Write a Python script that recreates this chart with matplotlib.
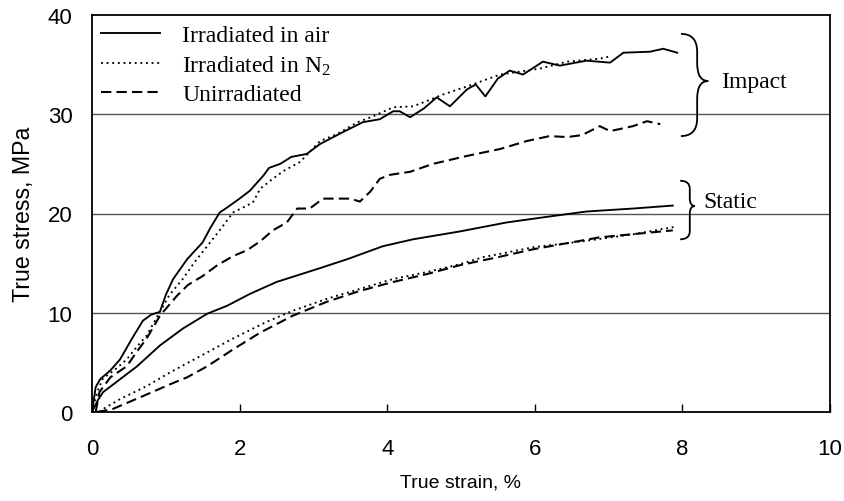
import matplotlib
matplotlib.use("Agg")
import matplotlib.pyplot as plt
from matplotlib.path import Path
from matplotlib.patches import PathPatch

# ---------------- data ----------------
impact_air_x = [0, 0.05, 0.11, 0.25, 0.38, 0.55, 0.69, 0.8, 0.92, 1.0, 1.1, 1.29, 1.5, 1.6, 1.73, 1.83,
                2.0, 2.14, 2.32, 2.4, 2.55, 2.7, 2.91, 3.09, 3.4, 3.67, 3.9, 4.08, 4.17, 4.31, 4.5, 4.67,
                4.85, 5.08, 5.2, 5.33, 5.5, 5.66, 5.84, 6.11, 6.34, 6.7, 7.02, 7.2, 7.56, 7.74, 7.93]
impact_air_y = [0, 2.5, 3.3, 4.2, 5.3, 7.5, 9.2, 9.8, 10.1, 11.8, 13.4, 15.4, 17.1, 18.5, 20.1, 20.6,
                21.5, 22.3, 23.8, 24.6, 25.0, 25.7, 26.0, 27.0, 28.2, 29.2, 29.5, 30.3, 30.3, 29.7, 30.6, 31.7,
                30.8, 32.5, 33.0, 31.8, 33.6, 34.4, 34.0, 35.3, 34.9, 35.4, 35.2, 36.2, 36.3, 36.6, 36.2]

impact_n2_x = [0, 0.07, 0.15, 0.3, 0.47, 0.6, 0.74, 0.92, 1.05, 1.23, 1.4, 1.56, 1.75, 1.91, 2.18, 2.28,
               2.45, 2.6, 2.82, 3.09, 3.32, 3.6, 3.81, 4.08, 4.35, 4.49, 4.76, 5.08, 5.53, 6.07, 6.44, 6.88, 7.0]
impact_n2_y = [0, 2.0, 3.4, 4.2, 5.3, 6.5, 7.7, 10.1, 11.8, 13.4, 15.2, 16.7, 18.5, 20.1, 21.1, 22.5,
               23.5, 24.3, 25.2, 27.3, 28.0, 29.2, 29.8, 30.7, 30.8, 31.2, 32.0, 32.8, 34.0, 34.6, 35.3, 35.6, 35.8]

impact_unirr_x = [0.05, 0.1, 0.25, 0.47, 0.6, 0.74, 0.92, 1.15, 1.3, 1.5, 1.7, 1.91, 2.1, 2.28, 2.45, 2.64,
                  2.78, 2.95, 3.13, 3.5, 3.63, 3.77, 3.9, 4.04, 4.31, 4.62, 5.08, 5.53, 5.89, 6.2, 6.44, 6.64,
                  6.88, 7.02, 7.33, 7.52, 7.7]
impact_unirr_y = [0, 2.0, 3.5, 4.6, 6.0, 7.4, 9.7, 11.7, 12.8, 13.7, 14.8, 15.7, 16.3, 17.2, 18.3, 19.1,
                  20.5, 20.5, 21.5, 21.5, 21.2, 22.2, 23.5, 23.9, 24.2, 25.0, 25.8, 26.5, 27.3, 27.8, 27.7, 27.9,
                  28.8, 28.3, 28.8, 29.3, 29.0]

static_air_x = [0, 0.08, 0.15, 0.38, 0.61, 0.92, 1.23, 1.56, 1.83, 2.14, 2.5, 3.05, 3.46, 3.94, 4.35, 4.99,
                5.62, 6.2, 6.7, 7.33, 7.87]
static_air_y = [0, 1.2, 2.0, 3.3, 4.6, 6.7, 8.4, 9.9, 10.7, 11.9, 13.1, 14.4, 15.4, 16.7, 17.4, 18.2,
                19.1, 19.7, 20.2, 20.5, 20.8]

static_n2_x = [0.1, 0.15, 0.38, 0.74, 1.06, 1.46, 1.91, 2.37, 2.72, 3.18, 3.63, 4.08, 4.54, 4.99, 5.3, 5.98,
               6.65, 7.33, 7.93]
static_n2_y = [0, 0.3, 1.3, 2.6, 4.0, 5.6, 7.4, 9.1, 10.2, 11.4, 12.4, 13.4, 14.1, 14.9, 15.6, 16.6,
               17.2, 17.9, 18.7]

static_unirr_x = [0.07, 0.28, 0.69, 1.06, 1.29, 1.56, 1.91, 2.28, 2.72, 3.18, 3.63, 4.08, 4.54, 4.99, 5.5,
                  5.98, 6.88, 7.87]
static_unirr_y = [0, 0.3, 1.6, 2.8, 3.5, 4.6, 6.3, 8.0, 9.7, 11.1, 12.2, 13.1, 13.9, 14.8, 15.6,
                  16.4, 17.6, 18.3]

legend_labels = ["Irradiated in air", r"Irradiated in $\mathrm{N_2}$", "Unirradiated"]
x_ticks = [0, 2, 4, 6, 8, 10]
y_ticks = [0, 10, 20, 30, 40]
group_labels = ["Impact", "Static"]

# ---------------- style ----------------
plt.rcParams['mathtext.fontset'] = 'custom'
plt.rcParams['mathtext.rm'] = 'Liberation Serif'
SANS = 'Liberation Sans'
SERIF = 'Liberation Serif'

fig = plt.figure(figsize=(8.45, 5.02), dpi=100)
ax = fig.add_axes([92 / 845, 89 / 502, 738 / 845, 397 / 502])

lw = 1.35
solid = dict(color='black', lw=lw, linestyle='-')
dotted = dict(color='black', lw=lw, linestyle=(0, (1, 2.0)))
dashed = dict(color='black', lw=lw * 1.1, linestyle=(0, (5, 2.5)))

for yv in [10, 20, 30]:
    ax.axhline(yv, color='#555555', lw=1.0, zorder=1)

l1, = ax.plot(impact_air_x, impact_air_y, **solid, zorder=3)
l2, = ax.plot(impact_n2_x, impact_n2_y, **dotted, zorder=3)
l3, = ax.plot(impact_unirr_x, impact_unirr_y, **dashed, zorder=3)
ax.plot(static_air_x, static_air_y, **solid, zorder=3)
ax.plot(static_n2_x, static_n2_y, **dotted, zorder=3)
ax.plot(static_unirr_x, static_unirr_y, **dashed, zorder=3)

ax.set_xlim(0, 10)
ax.set_ylim(0, 40)
ax.set_xticks(x_ticks)
ax.set_yticks(y_ticks)
ax.tick_params(axis='x', direction='in', length=6, width=1, pad=19, labelsize=16)
ax.tick_params(axis='y', length=0, pad=14, labelsize=16)
for lab in ax.get_xticklabels() + ax.get_yticklabels():
    lab.set_fontfamily(SANS)
for sp in ax.spines.values():
    sp.set_linewidth(1.3)

ax.set_xlabel("True strain, %", fontsize=14, family=SANS, labelpad=10)
ax.set_ylabel("True stress, MPa", fontsize=16.7, family=SANS, labelpad=9)

leg = ax.legend([l1, l2, l3], legend_labels, loc='upper left', frameon=False,
                prop={'family': SERIF, 'size': 17}, handlelength=2.5, handletextpad=0.95,
                labelspacing=0.3, borderaxespad=0.0, bbox_to_anchor=(0.004, 0.99), borderpad=0.25)


def brace(x0, xm, xt, yt, ym, yb, r):
    verts = [(x0, yt), (xm, yt), (xm, yt - r),
             (xm, ym + r),
             (xm, ym), (xt, ym),
             (xt, ym), (xm, ym), (xm, ym - r),
             (xm, yb + r),
             (xm, yb), (x0, yb)]
    codes = [Path.MOVETO, Path.CURVE3, Path.CURVE3,
             Path.LINETO,
             Path.CURVE3, Path.CURVE3,
             Path.MOVETO, Path.CURVE3, Path.CURVE3,
             Path.LINETO,
             Path.CURVE3, Path.CURVE3]
    p = PathPatch(Path(verts, codes), fill=False, lw=1.3, color='black', clip_on=False, zorder=4)
    ax.add_patch(p)


brace(7.98, 8.2, 8.35, 38.1, 33.35, 27.8, 1.8)
brace(7.97, 8.1, 8.17, 23.3, 20.75, 17.4, 0.8)
ax.text(8.52, 33.3, group_labels[0], family=SERIF, fontsize=17, va='center', ha='left')
ax.text(8.28, 21.2, group_labels[1], family=SERIF, fontsize=17, va='center', ha='left')

fig.savefig("out.png", dpi=100)
